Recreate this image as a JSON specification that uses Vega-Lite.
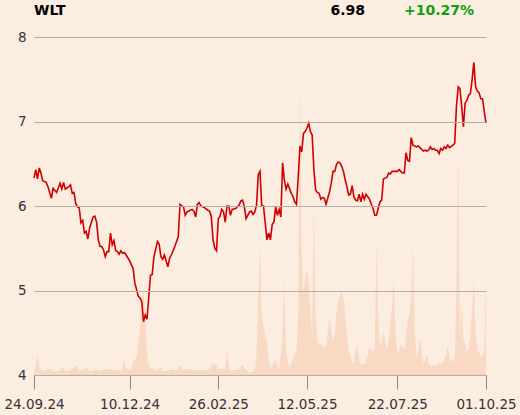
{
  "$schema": "https://vega.github.io/schema/vega-lite/v6.json",
  "width": 452,
  "height": 338,
  "autosize": "none",
  "padding": {"left": 34, "top": 37, "right": 34, "bottom": 40},
  "background": "#fcede1",
  "config": {"view": {"stroke": null}, "font": "DejaVu Sans"},
  "datasets": {
    "quote": [{"symbol": "WLT", "last": 6.98, "change": 0.1027}],
    "price": [
      {"t":0,"close":6.33},{"t":1,"close":6.43},{"t":2,"close":6.32},{"t":3,"close":6.45},{"t":4,"close":6.39},{"t":5,"close":6.30},{"t":7,"close":6.28},{"t":8,"close":6.23},{"t":10,"close":6.09},{"t":11,"close":6.21},{"t":13,"close":6.16},{"t":15,"close":6.27},{"t":16,"close":6.20},{"t":17,"close":6.28},{"t":18,"close":6.20},{"t":20,"close":6.23},{"t":21,"close":6.25},{"t":22,"close":6.15},{"t":23,"close":6.16},{"t":24,"close":6.03},{"t":25,"close":5.99},{"t":26,"close":5.98},{"t":27,"close":5.80},{"t":28,"close":5.83},{"t":29,"close":5.68},{"t":30,"close":5.70},{"t":31,"close":5.61},{"t":32,"close":5.74},{"t":34,"close":5.87},{"t":35,"close":5.88},{"t":36,"close":5.81},{"t":37,"close":5.60},{"t":38,"close":5.52},{"t":39,"close":5.52},{"t":40,"close":5.48},{"t":41,"close":5.40},{"t":42,"close":5.46},{"t":43,"close":5.46},{"t":44,"close":5.68},{"t":45,"close":5.54},{"t":46,"close":5.59},{"t":47,"close":5.47},{"t":48,"close":5.46},{"t":49,"close":5.43},{"t":50,"close":5.47},{"t":51,"close":5.44},{"t":52,"close":5.45},{"t":53,"close":5.42},{"t":55,"close":5.35},{"t":57,"close":5.26},{"t":58,"close":5.09},{"t":60,"close":4.93},{"t":61,"close":4.91},{"t":62,"close":4.87},{"t":63,"close":4.63},{"t":64,"close":4.71},{"t":65,"close":4.66},{"t":67,"close":5.18},{"t":68,"close":5.19},{"t":69,"close":5.40},{"t":71,"close":5.58},{"t":72,"close":5.55},{"t":73,"close":5.40},{"t":74,"close":5.37},{"t":75,"close":5.42},{"t":77,"close":5.28},{"t":78,"close":5.38},{"t":79,"close":5.42},{"t":81,"close":5.52},{"t":82,"close":5.58},{"t":83,"close":5.64},{"t":84,"close":6.02},{"t":85,"close":6.00},{"t":86,"close":5.99},{"t":87,"close":5.89},{"t":88,"close":5.93},{"t":89,"close":5.94},{"t":91,"close":5.96},{"t":92,"close":5.94},{"t":93,"close":5.87},{"t":94,"close":6.02},{"t":95,"close":6.04},{"t":96,"close":6.00},{"t":97,"close":5.99},{"t":98,"close":5.98},{"t":100,"close":5.95},{"t":101,"close":5.94},{"t":102,"close":5.87},{"t":103,"close":5.60},{"t":104,"close":5.50},{"t":105,"close":5.47},{"t":106,"close":5.85},{"t":107,"close":5.88},{"t":108,"close":5.96},{"t":109,"close":5.93},{"t":110,"close":5.81},{"t":111,"close":6.00},{"t":112,"close":6.00},{"t":113,"close":5.89},{"t":114,"close":5.96},{"t":116,"close":5.97},{"t":118,"close":6.01},{"t":119,"close":6.06},{"t":120,"close":6.07},{"t":121,"close":5.99},{"t":122,"close":5.85},{"t":124,"close":5.93},{"t":125,"close":5.94},{"t":126,"close":5.90},{"t":127,"close":5.93},{"t":128,"close":6.01},{"t":129,"close":6.37},{"t":130,"close":6.41},{"t":131,"close":6.00},{"t":132,"close":6.00},{"t":133,"close":5.80},{"t":134,"close":5.60},{"t":135,"close":5.68},{"t":136,"close":5.60},{"t":137,"close":5.78},{"t":138,"close":5.81},{"t":139,"close":5.99},{"t":140,"close":5.89},{"t":141,"close":5.96},{"t":142,"close":5.87},{"t":143,"close":6.51},{"t":144,"close":6.31},{"t":145,"close":6.20},{"t":146,"close":6.26},{"t":148,"close":6.15},{"t":149,"close":6.11},{"t":150,"close":6.05},{"t":151,"close":6.02},{"t":152,"close":6.35},{"t":153,"close":6.71},{"t":154,"close":6.64},{"t":155,"close":6.86},{"t":156,"close":6.88},{"t":157,"close":6.92},{"t":158,"close":6.98},{"t":159,"close":6.88},{"t":160,"close":6.84},{"t":161,"close":6.43},{"t":162,"close":6.19},{"t":163,"close":6.16},{"t":164,"close":6.15},{"t":165,"close":6.08},{"t":166,"close":6.10},{"t":167,"close":6.09},{"t":168,"close":6.02},{"t":170,"close":6.17},{"t":171,"close":6.27},{"t":172,"close":6.41},{"t":173,"close":6.41},{"t":174,"close":6.49},{"t":175,"close":6.52},{"t":176,"close":6.51},{"t":177,"close":6.47},{"t":178,"close":6.41},{"t":179,"close":6.31},{"t":180,"close":6.23},{"t":181,"close":6.13},{"t":182,"close":6.14},{"t":183,"close":6.24},{"t":184,"close":6.11},{"t":185,"close":6.07},{"t":186,"close":6.06},{"t":187,"close":6.14},{"t":188,"close":6.05},{"t":189,"close":6.14},{"t":190,"close":6.08},{"t":191,"close":6.14},{"t":192,"close":6.11},{"t":193,"close":6.08},{"t":194,"close":6.02},{"t":195,"close":5.97},{"t":196,"close":5.89},{"t":197,"close":5.89},{"t":198,"close":5.97},{"t":199,"close":6.05},{"t":200,"close":6.07},{"t":201,"close":6.32},{"t":202,"close":6.33},{"t":203,"close":6.34},{"t":204,"close":6.39},{"t":205,"close":6.38},{"t":206,"close":6.41},{"t":208,"close":6.41},{"t":209,"close":6.41},{"t":210,"close":6.43},{"t":211,"close":6.41},{"t":212,"close":6.39},{"t":213,"close":6.39},{"t":214,"close":6.63},{"t":215,"close":6.54},{"t":216,"close":6.53},{"t":217,"close":6.81},{"t":218,"close":6.72},{"t":220,"close":6.70},{"t":221,"close":6.71},{"t":222,"close":6.69},{"t":224,"close":6.65},{"t":225,"close":6.66},{"t":226,"close":6.65},{"t":227,"close":6.66},{"t":228,"close":6.70},{"t":229,"close":6.67},{"t":230,"close":6.68},{"t":231,"close":6.66},{"t":232,"close":6.66},{"t":233,"close":6.62},{"t":234,"close":6.68},{"t":235,"close":6.66},{"t":236,"close":6.70},{"t":237,"close":6.68},{"t":238,"close":6.72},{"t":239,"close":6.69},{"t":241,"close":6.72},{"t":242,"close":6.74},{"t":243,"close":7.18},{"t":244,"close":7.41},{"t":245,"close":7.39},{"t":246,"close":7.18},{"t":247,"close":6.94},{"t":248,"close":7.22},{"t":249,"close":7.25},{"t":250,"close":7.31},{"t":251,"close":7.33},{"t":252,"close":7.49},{"t":253,"close":7.70},{"t":254,"close":7.41},{"t":255,"close":7.36},{"t":256,"close":7.34},{"t":257,"close":7.27},{"t":258,"close":7.27},{"t":259,"close":7.12},{"t":260,"close":6.98}
    ],
    "volume": [
      {"t":0,"volume":5},{"t":1,"volume":10},{"t":2,"volume":20},{"t":3,"volume":8},{"t":5,"volume":4},{"t":7,"volume":5},{"t":9,"volume":6},{"t":12,"volume":3},{"t":14,"volume":4},{"t":17,"volume":8},{"t":18,"volume":3},{"t":21,"volume":5},{"t":25,"volume":10},{"t":26,"volume":4},{"t":28,"volume":5},{"t":30,"volume":8},{"t":32,"volume":3},{"t":36,"volume":6},{"t":38,"volume":4},{"t":40,"volume":5},{"t":44,"volume":6},{"t":46,"volume":4},{"t":48,"volume":5},{"t":50,"volume":4},{"t":52,"volume":15},{"t":53,"volume":6},{"t":54,"volume":7},{"t":56,"volume":5},{"t":57,"volume":13},{"t":59,"volume":18},{"t":60,"volume":30},{"t":61,"volume":48},{"t":62,"volume":75},{"t":63,"volume":85},{"t":64,"volume":58},{"t":65,"volume":25},{"t":66,"volume":10},{"t":67,"volume":7},{"t":69,"volume":6},{"t":71,"volume":4},{"t":73,"volume":8},{"t":74,"volume":3},{"t":77,"volume":5},{"t":79,"volume":6},{"t":82,"volume":4},{"t":84,"volume":10},{"t":86,"volume":5},{"t":89,"volume":6},{"t":92,"volume":5},{"t":94,"volume":4},{"t":96,"volume":5},{"t":98,"volume":4},{"t":101,"volume":6},{"t":103,"volume":12},{"t":105,"volume":10},{"t":106,"volume":5},{"t":108,"volume":7},{"t":110,"volume":6},{"t":111,"volume":28},{"t":112,"volume":10},{"t":113,"volume":4},{"t":116,"volume":5},{"t":118,"volume":6},{"t":120,"volume":10},{"t":122,"volume":5},{"t":124,"volume":2},{"t":127,"volume":4},{"t":128,"volume":20},{"t":129,"volume":80},{"t":130,"volume":130},{"t":131,"volume":60},{"t":132,"volume":50},{"t":133,"volume":40},{"t":134,"volume":32},{"t":135,"volume":15},{"t":136,"volume":8},{"t":138,"volume":12},{"t":139,"volume":16},{"t":140,"volume":8},{"t":141,"volume":5},{"t":143,"volume":40},{"t":144,"volume":98},{"t":145,"volume":22},{"t":146,"volume":12},{"t":147,"volume":7},{"t":149,"volume":16},{"t":150,"volume":20},{"t":151,"volume":25},{"t":152,"volume":60},{"t":153,"volume":296},{"t":154,"volume":120},{"t":155,"volume":82},{"t":156,"volume":95},{"t":157,"volume":107},{"t":158,"volume":90},{"t":159,"volume":62},{"t":160,"volume":40},{"t":161,"volume":170},{"t":162,"volume":60},{"t":163,"volume":35},{"t":164,"volume":30},{"t":165,"volume":32},{"t":166,"volume":28},{"t":167,"volume":27},{"t":168,"volume":30},{"t":169,"volume":45},{"t":170,"volume":59},{"t":171,"volume":45},{"t":172,"volume":35},{"t":173,"volume":40},{"t":174,"volume":63},{"t":175,"volume":75},{"t":177,"volume":83},{"t":178,"volume":75},{"t":179,"volume":62},{"t":180,"volume":40},{"t":181,"volume":25},{"t":182,"volume":18},{"t":183,"volume":12},{"t":184,"volume":12},{"t":185,"volume":25},{"t":186,"volume":31},{"t":187,"volume":15},{"t":188,"volume":11},{"t":189,"volume":11},{"t":190,"volume":11},{"t":191,"volume":13},{"t":192,"volume":20},{"t":193,"volume":28},{"t":194,"volume":25},{"t":195,"volume":24},{"t":196,"volume":25},{"t":197,"volume":135},{"t":198,"volume":60},{"t":199,"volume":28},{"t":200,"volume":35},{"t":201,"volume":44},{"t":203,"volume":25},{"t":204,"volume":35},{"t":205,"volume":52},{"t":206,"volume":70},{"t":207,"volume":94},{"t":208,"volume":40},{"t":209,"volume":22},{"t":210,"volume":25},{"t":211,"volume":30},{"t":212,"volume":28},{"t":213,"volume":25},{"t":214,"volume":40},{"t":215,"volume":55},{"t":216,"volume":60},{"t":217,"volume":75},{"t":218,"volume":132},{"t":219,"volume":45},{"t":220,"volume":18},{"t":221,"volume":25},{"t":222,"volume":38},{"t":223,"volume":22},{"t":224,"volume":12},{"t":225,"volume":15},{"t":226,"volume":21},{"t":227,"volume":12},{"t":228,"volume":8},{"t":230,"volume":10},{"t":231,"volume":9},{"t":232,"volume":10},{"t":233,"volume":12},{"t":234,"volume":11},{"t":235,"volume":13},{"t":236,"volume":15},{"t":237,"volume":20},{"t":238,"volume":29},{"t":239,"volume":18},{"t":240,"volume":13},{"t":241,"volume":18},{"t":242,"volume":10},{"t":243,"volume":90},{"t":244,"volume":227},{"t":245,"volume":40},{"t":246,"volume":72},{"t":247,"volume":35},{"t":248,"volume":32},{"t":249,"volume":25},{"t":250,"volume":25},{"t":251,"volume":40},{"t":252,"volume":65},{"t":253,"volume":95},{"t":254,"volume":45},{"t":255,"volume":22},{"t":256,"volume":24},{"t":257,"volume":18},{"t":258,"volume":20},{"t":259,"volume":25},{"t":260,"volume":103}
    ]
  },
  "layer": [
    {
      "data": {"name": "volume"},
      "mark": {"type": "area", "color": "#f8dac4"},
      "encoding": {
        "x": {"field": "t", "type": "quantitative", "scale": {"domain": [0, 260], "nice": false},
          "axis": {"values": [0, 55, 106, 157, 209, 260], "labelExpr": "datum.value == 0 ? '24.09.24' : datum.value == 55 ? '10.12.24' : datum.value == 106 ? '26.02.25' : datum.value == 157 ? '12.05.25' : datum.value == 209 ? '22.07.25' : '01.10.25'", "title": null, "grid": false, "domainColor": "#8a8a8a", "tickColor": "#8a8a8a", "tickSize": 14, "labelPadding": 8, "labelFontSize": 13.5, "labelColor": "#333333", "labelFlush": false, "labelOverlap": false}},
        "y": {"field": "volume", "type": "quantitative", "scale": {"domain": [0, 338], "nice": false}, "axis": null}
      }
    },
    {
      "data": {"name": "price"},
      "mark": {"type": "line", "color": "#d10000", "strokeWidth": 1.6},
      "encoding": {
        "x": {"field": "t", "type": "quantitative", "scale": {"domain": [0, 260], "nice": false},
          "axis": {"values": [0, 55, 106, 157, 209, 260], "labelExpr": "datum.value == 0 ? '24.09.24' : datum.value == 55 ? '10.12.24' : datum.value == 106 ? '26.02.25' : datum.value == 157 ? '12.05.25' : datum.value == 209 ? '22.07.25' : '01.10.25'", "title": null, "grid": false, "domainColor": "#8a8a8a", "tickColor": "#8a8a8a", "tickSize": 14, "labelPadding": 8, "labelFontSize": 13.5, "labelColor": "#333333", "labelFlush": false, "labelOverlap": false}},
        "y": {"field": "close", "type": "quantitative", "scale": {"domain": [4, 8], "nice": false, "zero": false},
          "axis": {"values": [4, 5, 6, 7, 8], "title": null, "grid": true, "gridColor": "#b5aea8", "domain": false, "ticks": false, "labelPadding": 8, "labelFontSize": 13.5, "labelColor": "#333333", "zindex": 1}}
      }
    },
    {
      "data": {"name": "quote"},
      "mark": {"type": "text", "align": "left", "baseline": "alphabetic", "fontSize": 14, "fontWeight": "bold", "color": "#000000", "x": 0, "y": -22},
      "encoding": {"text": {"field": "symbol"}}
    },
    {
      "data": {"name": "quote"},
      "mark": {"type": "text", "align": "right", "baseline": "alphabetic", "fontSize": 14, "fontWeight": "bold", "color": "#000000", "x": 331, "y": -22},
      "encoding": {"text": {"field": "last", "format": ".2f"}}
    },
    {
      "data": {"name": "quote"},
      "mark": {"type": "text", "align": "right", "baseline": "alphabetic", "fontSize": 14, "fontWeight": "bold", "color": "#109e10", "x": 440, "y": -22},
      "encoding": {"text": {"field": "change", "format": "+.2%"}}
    }
  ],
  "resolve": {"scale": {"y": "independent"}}
}
